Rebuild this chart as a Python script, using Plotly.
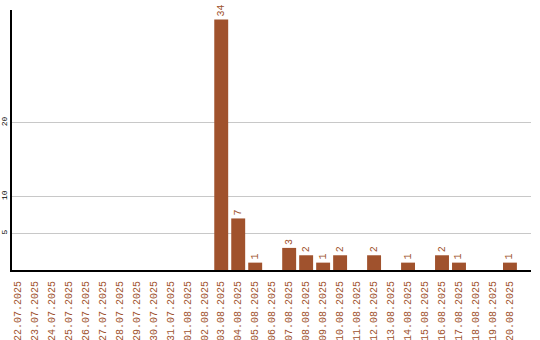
import plotly.graph_objects as go

dates = ["22.07.2025", "23.07.2025", "24.07.2025", "25.07.2025", "26.07.2025",
         "27.07.2025", "28.07.2025", "29.07.2025", "30.07.2025", "31.07.2025",
         "01.08.2025", "02.08.2025", "03.08.2025", "04.08.2025", "05.08.2025",
         "06.08.2025", "07.08.2025", "08.08.2025", "09.08.2025", "10.08.2025",
         "11.08.2025", "12.08.2025", "13.08.2025", "14.08.2025", "15.08.2025",
         "16.08.2025", "17.08.2025", "18.08.2025", "19.08.2025", "20.08.2025"]
counts = [0, 0, 0, 0, 0, 0, 0, 0, 0, 0,
          0, 0, 34, 7, 1, 0, 3, 2, 1, 2,
          0, 2, 0, 1, 0, 2, 1, 0, 0, 1]
y_ticks = [5, 10, 20]

BROWN = "#A0522D"
labels = [str(c) if c > 0 else "" for c in counts]

fig = go.Figure(go.Bar(
    x=dates, y=counts, marker_color=BROWN, marker_line_width=0,
    text=labels, textposition="outside", textangle=-90,
    textfont=dict(family="Liberation Mono", size=10, color=BROWN),
    cliponaxis=False,
))

fig.update_layout(
    width=540, height=340,
    margin=dict(l=12, r=9, t=10, b=70),
    paper_bgcolor="white", plot_bgcolor="white",
    bargap=0.18, showlegend=False,
    uniformtext=dict(minsize=8, mode="show"),
    xaxis=dict(
        type="category", range=[-0.32, 30.24], automargin=False,
        tickangle=-90, tickfont=dict(family="Liberation Mono", size=10, color=BROWN),
        showline=True, linecolor="black", linewidth=2, showgrid=False,
        ticks="", ticklabelstandoff=5,
    ),
    yaxis=dict(
        range=[0, 35.3], tickvals=y_ticks, tickangle=-90, automargin=False,
        tickfont=dict(family="Liberation Mono", size=8, color="black"),
        showline=True, linecolor="black", linewidth=2,
        showgrid=True, gridcolor="#c8c8c8", gridwidth=1,
        zeroline=False, ticks="", ticklabelstandoff=0,
    ),
)

fig.write_html("out.html")
